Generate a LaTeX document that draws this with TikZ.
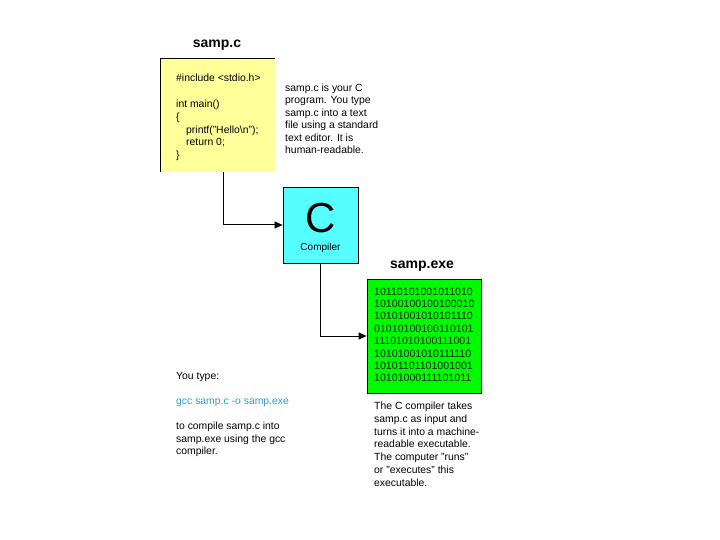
\documentclass[tikz,border=0pt]{standalone}
\usepackage{fontspec}
\setmainfont{Liberation Sans}
\usetikzlibrary{arrows.meta}
\definecolor{ylw}{RGB}{255,255,153}
\definecolor{cyn}{RGB}{85,255,255}
\definecolor{grn}{RGB}{0,250,0}
\definecolor{gcccol}{RGB}{51,153,204}
\definecolor{bincol}{RGB}{0,45,0}
\newcommand{\mlines}[1]{\begin{tabular}[t]{@{}l@{}}#1\end{tabular}}
\begin{document}
\begin{tikzpicture}[x=1pt,y=-1pt,
  txt/.style={anchor=base west, inner sep=0pt},
  ttl/.style={anchor=base, inner sep=0pt, font=\fontsize{14}{16}\selectfont\bfseries},
  arr/.style={-{Triangle[length=8pt,width=7pt]}, line width=1pt},
  boxst/.style={draw=black, line width=0.8pt, inner sep=0pt},
]
\useasboundingbox (0,0) rectangle (720,540);
% yellow source box (top and left edges only)
\node[fill=ylw, minimum width=115pt, minimum height=114pt, inner sep=0pt, anchor=north west] (ybox) at (160,58) {};
\draw[line width=0.8pt] (ybox.south west) -- (ybox.north west) -- (ybox.north east);
% compiler box
\node[boxst, fill=cyn, minimum width=75pt, minimum height=76pt] (cbox) at (320.5,225) {};
% executable box
\node[boxst, fill=grn, minimum width=114pt, minimum height=114pt] (gbox) at (424,336) {};
% titles
\node[ttl] (t1) at (217,48) {samp.c};
\node[ttl] (t2) at (422,268) {samp.exe};
% code
\node[txt] (code) at (176,81.5) {\fontsize{10.4}{12.9}\selectfont\mlines{\#include <stdio.h>\\[12.9pt]int main()\\\{\\\hspace*{10pt}printf("Hello\textbackslash n");\\\hspace*{10pt}return 0;\\\}}};
% description
\node[txt] (desc) at (285,91.5) {\fontsize{10.4}{12.4}\selectfont\mlines{samp.c is your C\\program. You type\\samp.c into a text\\file using a standard\\text editor. It is\\human-readable.}};
% compiler label
\node[anchor=base, inner sep=0pt, font=\fontsize{42}{42}\selectfont] (cl) at (320.5,233) {C};
\node[anchor=base, inner sep=0pt, font=\fontsize{10}{12}\selectfont] (cc) at (320.5,250) {Compiler};
% binary
\node[txt, text=bincol] (bin) at (374,295) {\fontsize{10.6}{12.4}\selectfont\mlines{10110101001011010\\10100100100100010\\10101001010101110\\01010100100110101\\11101010100111001\\10101001010111110\\10101101101001001\\10101000111101011}};
% bottom left
\node[txt] (you) at (176,379.5) {\fontsize{10.4}{12.5}\selectfont\mlines{You type:\\[12.5pt]\textcolor{gcccol}{gcc samp.c -o samp.exe}\\[12.5pt]to compile samp.c into\\samp.exe using the gcc\\compiler.}};
% bottom right
\node[txt] (expl) at (374,409.5) {\fontsize{10.4}{12.8}\selectfont\mlines{The C compiler takes\\samp.c as input and\\turns it into a machine-\\readable executable.\\The computer "runs"\\or "executes" this\\executable.}};
% connectors
\draw[arr] ([xshift=5.5pt]ybox.south) |- (cbox.west);
\draw[arr] (cbox.south) |- (gbox.west);
\end{tikzpicture}
\end{document}
